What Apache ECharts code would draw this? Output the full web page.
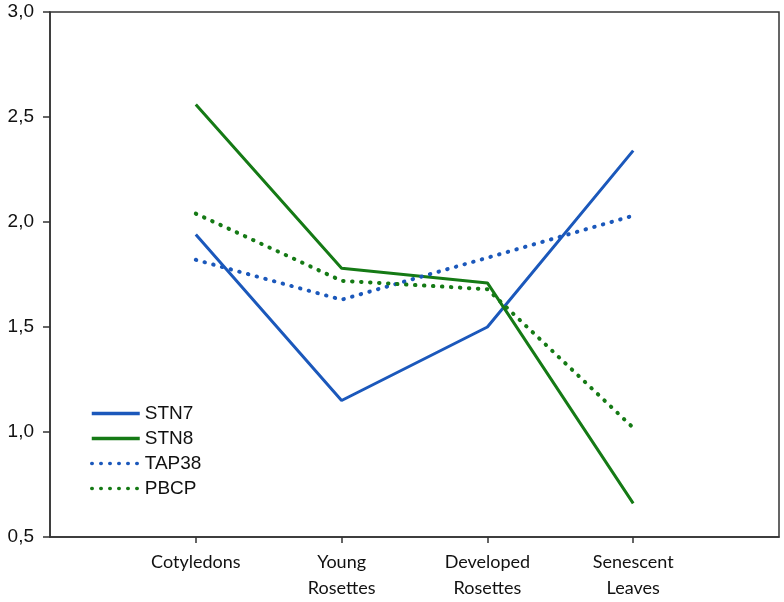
<!DOCTYPE html>
<html>
<head>
<meta charset="utf-8">
<script src="https://cdn.jsdelivr.net/npm/echarts@6/dist/echarts.min.js"></script>
<style>
  html, body { margin: 0; padding: 0; background: #fff; }
  #chart { width: 784px; height: 602px; }
</style>
</head>
<body>
<div id="chart"></div>
<script>
// empty slots at both ends give the padding either side of the four stages
var categories = ["", "Cotyledons", "Young\nRosettes", "Developed\nRosettes", "Senescent\nLeaves", ""];
var stn7 = [null, 1.94, 1.15, 1.50, 2.34, null];
var stn8 = [null, 2.56, 1.78, 1.71, 0.66, null];
var tap38 = [null, 1.82, 1.63, 1.83, 2.03, null];
var pbcp = [null, 2.04, 1.72, 1.68, 1.02, null];

var blue = "#1b58bb";
var green = "#157a15";

var chart = echarts.init(document.getElementById("chart"));

function line(name, data, color, dotted) {
  return {
    name: name,
    type: "line",
    data: data,
    symbol: "none",
    connectNulls: false,
    color: color,
    lineStyle: dotted
      ? { color: color, width: 4, type: [0.5, 8.5], cap: "round" }
      : { color: color, width: 3 },
  };
}

var option = {
  animation: false,
  grid: {
    left: 50,
    right: 5,
    top: 12,
    bottom: 65,
    show: true,
    borderColor: "#333",
    borderWidth: 1.5,
  },
  legend: {
    orient: "vertical",
    left: 85,
    top: 399,
    itemWidth: 48,
    itemHeight: 14,
    itemGap: 6,
    itemStyle: { opacity: 0 },
    lineStyle: { width: 3.5 },
    textStyle: { fontFamily: "Liberation Sans", fontSize: 19, color: "#111" },
    data: ["STN7", "STN8", "TAP38", "PBCP"],
  },
  xAxis: {
    type: "category",
    boundaryGap: false,
    data: categories,
    axisLine: { lineStyle: { color: "#333", width: 1.5 } },
    axisTick: {
      length: 6,
      lineStyle: { color: "#333", width: 1.5 },
      interval: function (i) {
        return i > 0 && i < categories.length - 1;
      },
    },
    axisLabel: {
      interval: 0,
      margin: 12,
      fontFamily: "Lato",
      fontSize: 18,
      lineHeight: 26,
      color: "#111",
    },
    splitLine: { show: false },
  },
  yAxis: {
    type: "value",
    min: 0.5,
    max: 3.0,
    interval: 0.5,
    axisLine: { show: true, lineStyle: { color: "#333", width: 1.5 } },
    axisTick: { show: true, length: 7, lineStyle: { color: "#333", width: 1.5 } },
    axisLabel: {
      margin: 16,
      fontFamily: "Liberation Sans",
      fontSize: 19,
      color: "#111",
      formatter: function (v) {
        return v.toFixed(1).replace(".", ",");
      },
    },
    splitLine: { show: false },
  },
  series: [
    line("STN7", stn7, blue, false),
    line("STN8", stn8, green, false),
    line("TAP38", tap38, blue, true),
    line("PBCP", pbcp, green, true),
  ],
};

chart.setOption(option);
</script>
</body>
</html>
